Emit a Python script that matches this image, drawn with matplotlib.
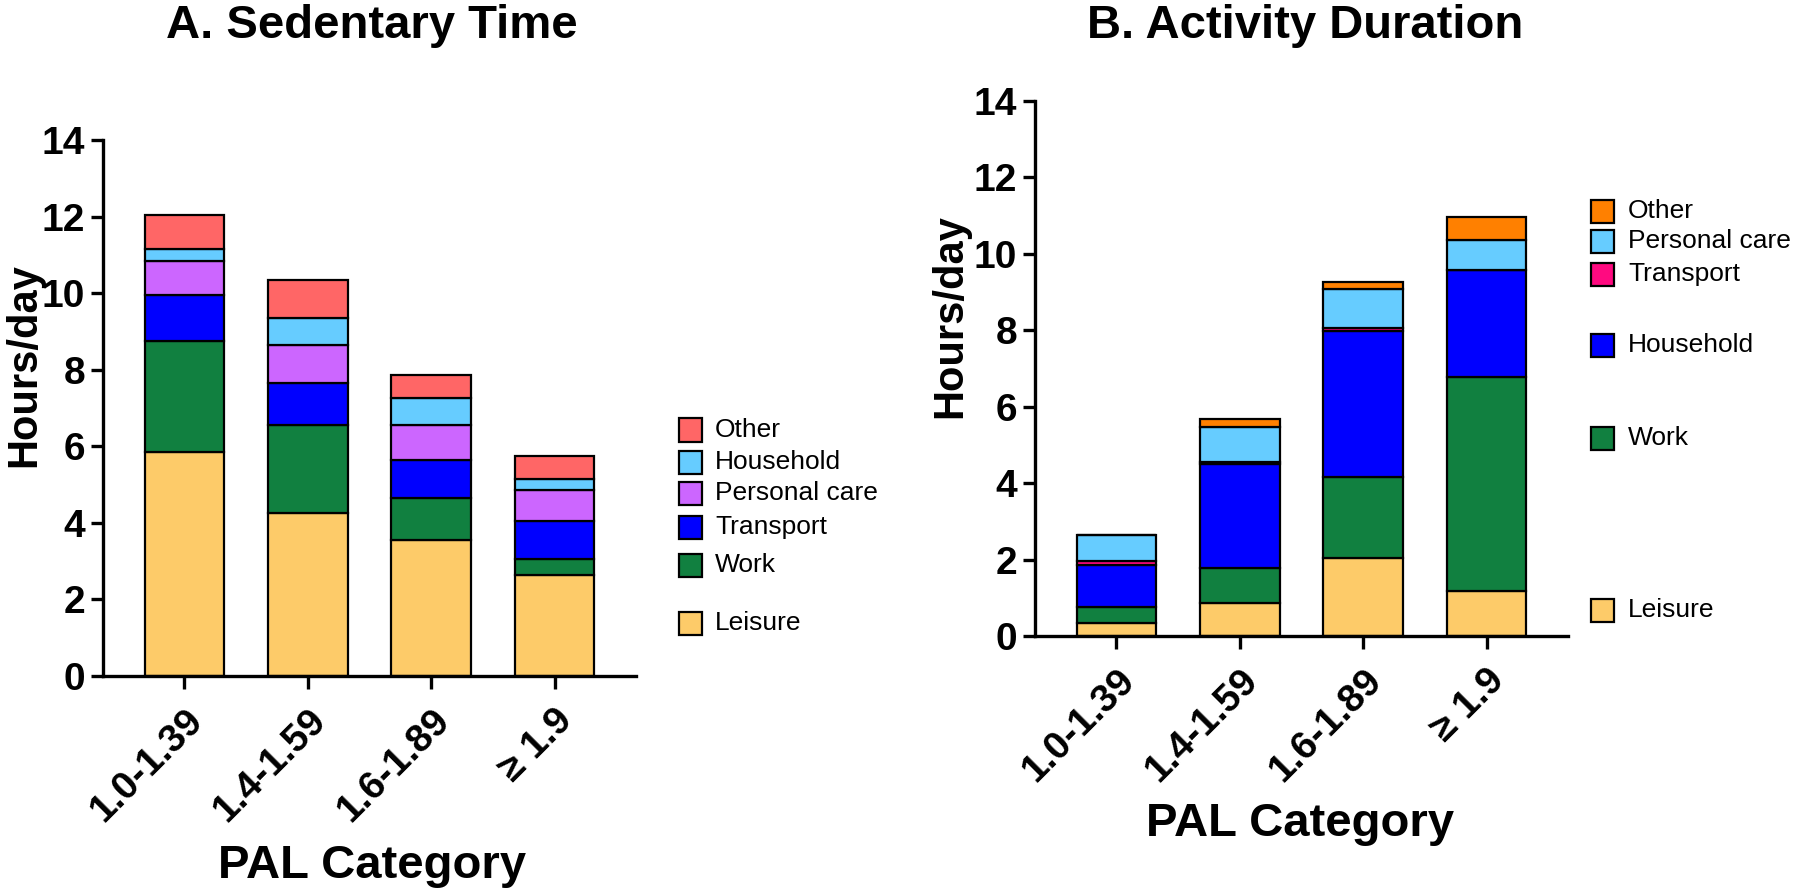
import matplotlib
matplotlib.use('Agg')
import numpy as np
import matplotlib.pyplot as plt
from matplotlib.patches import Rectangle

plt.rcParams['font.family'] = ['Liberation Sans', 'DejaVu Sans']

# PAL categories on the x axis
categories = ['1.0-1.39', '1.4-1.59', '1.6-1.89', '\u2265 1.9']

# A. Sedentary time (hours/day), stacked bottom to top
sed_leisure = [5.85, 4.25, 3.55, 2.65]
sed_work = [2.9, 2.3, 1.1, 0.4]
sed_transport = [1.2, 1.1, 1.0, 1.0]
sed_personal = [0.9, 1.0, 0.9, 0.8]
sed_household = [0.3, 0.7, 0.7, 0.3]
sed_other = [0.9, 1.0, 0.6, 0.6]

# B. Activity duration (hours/day), stacked bottom to top
act_leisure = [0.35, 0.87, 2.05, 1.17]
act_work = [0.42, 0.9, 2.12, 5.6]
act_household = [1.1, 2.72, 3.8, 2.8]
act_transport = [0.08, 0.07, 0.1, 0.0]
act_personal = [0.7, 0.92, 1.0, 0.8]
act_other = [0.0, 0.2, 0.2, 0.6]

YELLOW = '#fdcb69'
GREEN = '#118040'
BLUE = '#0000ff'
PURPLE = '#cc66ff'
LIGHTBLUE = '#66ccff'
RED = '#ff6666'
PINK = '#ff0a80'
ORANGE = '#ff8000'

sed_series = [('Leisure', sed_leisure, YELLOW), ('Work', sed_work, GREEN),
              ('Transport', sed_transport, BLUE), ('Personal care', sed_personal, PURPLE),
              ('Household', sed_household, LIGHTBLUE), ('Other', sed_other, RED)]
act_series = [('Leisure', act_leisure, YELLOW), ('Work', act_work, GREEN),
              ('Household', act_household, BLUE), ('Transport', act_transport, PINK),
              ('Personal care', act_personal, LIGHTBLUE), ('Other', act_other, ORANGE)]

# legend rows: label -> pixel y of row centre (GraphPad style, uneven spacing)
sed_legend_y = {'Other': 430, 'Household': 462, 'Personal care': 493,
                'Transport': 527, 'Work': 565, 'Leisure': 623}
act_legend_y = {'Other': 211, 'Personal care': 241, 'Transport': 274,
                'Household': 345, 'Work': 438, 'Leisure': 610}

W, H = 1800, 894
fig = plt.figure(figsize=(W / 100, H / 100), dpi=100)


def px_axes(x0, y0, x1, y1):
    return fig.add_axes([x0 / W, 1 - y1 / H, (x1 - x0) / W, (y1 - y0) / H])


def draw_stack(ax, series):
    x = np.arange(len(categories))
    bottom = np.zeros(len(categories))
    for name, vals, col in series:
        ax.bar(x, vals, bottom=bottom, width=0.645, color=col,
               edgecolor='black', linewidth=1.6, zorder=2)
        bottom += np.array(vals)
    ax.set_xlim(-0.66, 3.66)
    ax.set_ylim(0, 14)
    ax.set_yticks(range(0, 15, 2))
    ax.set_xticks(x)
    ax.set_xticklabels(categories, rotation=45, ha='right', va='top',
                       rotation_mode='anchor', fontsize=28, fontweight='bold')
    for lab in ax.get_yticklabels():
        lab.set_fontsize(28)
        lab.set_fontweight('bold')
    for s in ['top', 'right']:
        ax.spines[s].set_visible(False)
    for s in ['left', 'bottom']:
        ax.spines[s].set_linewidth(2.4)
    ax.tick_params(axis='both', width=2.4, length=9, pad=4)
    ax.tick_params(axis='x', pad=10)


def draw_legend(series, ypos, px, tx):
    for name, vals, col in series:
        y = ypos[name]
        fig.add_artist(Rectangle((px / W, 1 - (y + 11.5) / H), 23 / W, 23 / H,
                                 facecolor=col, edgecolor='black', linewidth=1.6,
                                 transform=fig.transFigure))
        fig.text(tx / W, 1 - y / H, name, fontsize=19, va='center', ha='left')


axA = px_axes(103, 140, 636, 676)
draw_stack(axA, sed_series)
draw_legend(sed_series, sed_legend_y, 679, 715)

axB = px_axes(1035, 101, 1568, 636)
draw_stack(axB, act_series)
draw_legend(act_series, act_legend_y, 1591, 1628)

# titles and axis labels
fig.text(372 / W, 1 - 26 / H, 'A. Sedentary Time', fontsize=34, fontweight='bold',
         ha='center', va='center')
fig.text(1305 / W, 1 - 26 / H, 'B. Activity Duration', fontsize=34, fontweight='bold',
         ha='center', va='center')
fig.text(372 / W, 1 - 866 / H, 'PAL Category', fontsize=34, fontweight='bold',
         ha='center', va='center')
fig.text(1300 / W, 1 - 824 / H, 'PAL Category', fontsize=34, fontweight='bold',
         ha='center', va='center')
fig.text(24 / W, 1 - 365 / H, 'Hours/day', fontsize=30, fontweight='bold',
         ha='center', va='center', rotation=90)
fig.text(950 / W, 1 - 316 / H, 'Hours/day', fontsize=30, fontweight='bold',
         ha='center', va='center', rotation=90)

fig.savefig('out.png', dpi=100)
